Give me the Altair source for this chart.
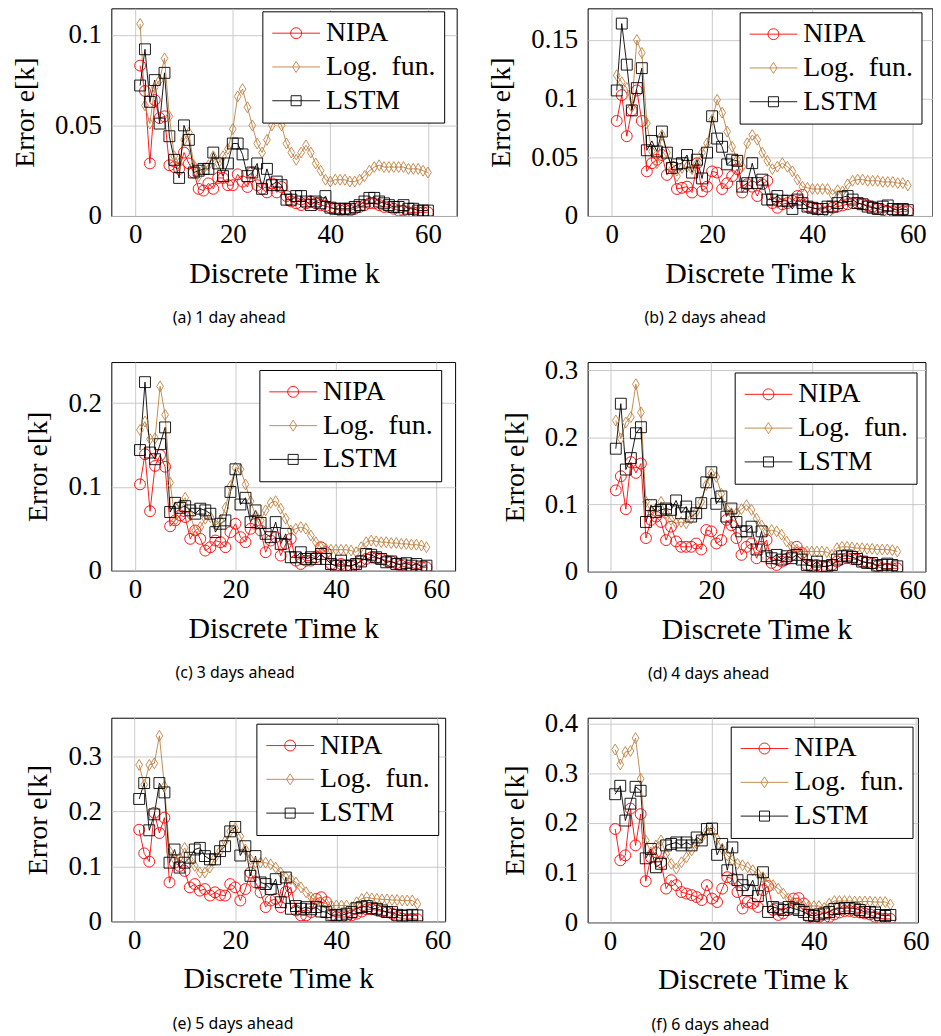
import altair as alt
import pandas as pd

SERIES = ["NIPA", "Log.\u2002fun.", "LSTM"]
COLORS = ["#ff0000", "#bf8040", "#000000"]
X_TICKS = [0, 20, 40, 60]

CAPTIONS = ["(a) 1 day ahead", "(b) 2 days ahead", "(c) 3 days ahead",
            "(d) 4 days ahead", "(e) 5 days ahead", "(f) 6 days ahead"]
Y_TICKS = [[0, 0.05, 0.1], [0, 0.05, 0.1, 0.15], [0, 0.1, 0.2],
           [0, 0.1, 0.2, 0.3], [0, 0.1, 0.2, 0.3], [0, 0.1, 0.2, 0.3, 0.4]]

# ---------------- (a) 1 day ahead ----------------
a_nipa = [0.083, 0.069, 0.029, 0.064, 0.054, 0.055, 0.028, 0.027, 0.026, 0.035,
          0.029, 0.024, 0.015, 0.014, 0.018, 0.015, 0.021, 0.021, 0.017, 0.017,
          0.023, 0.019, 0.016, 0.024, 0.017, 0.015, 0.013, 0.018, 0.013, 0.016,
          0.011, 0.008, 0.007, 0.006, 0.007, 0.008, 0.007, 0.006, 0.0055, 0.0046,
          0.004, 0.003, 0.0035, 0.003, 0.004, 0.005, 0.006, 0.007, 0.007, 0.006,
          0.005, 0.005, 0.004, 0.003, 0.003, 0.002, 0.002, 0.002, 0.002, 0.002]
a_log = [0.106, 0.061, 0.051, 0.071, 0.075, 0.087, 0.055, 0.033, 0.029, 0.042,
         0.046, 0.028, 0.022, 0.026, 0.028, 0.033, 0.029, 0.033, 0.037, 0.048,
         0.066, 0.070, 0.060, 0.050, 0.040, 0.035, 0.042, 0.050, 0.054, 0.050,
         0.040, 0.035, 0.031, 0.035, 0.039, 0.035, 0.029, 0.025, 0.020, 0.019,
         0.020, 0.020, 0.020, 0.019, 0.019, 0.020, 0.022, 0.025, 0.027, 0.028,
         0.027, 0.027, 0.027, 0.027, 0.027, 0.026, 0.026, 0.026, 0.025, 0.024]
a_lstm = [0.072, 0.092, 0.063, 0.075, 0.051, 0.079, 0.044, 0.031, 0.021, 0.050,
          0.042, 0.024, 0.025, 0.026, 0.026, 0.035, 0.029, 0.022, 0.029, 0.040,
          0.040, 0.034, 0.022, 0.024, 0.029, 0.015, 0.026, 0.017, 0.019, 0.017,
          0.009, 0.009, 0.011, 0.011, 0.008, 0.006, 0.008, 0.007, 0.011, 0.0046,
          0.004, 0.004, 0.004, 0.004, 0.005, 0.006, 0.008, 0.010, 0.010, 0.008,
          0.007, 0.006, 0.005, 0.005, 0.006, 0.004, 0.004, 0.003, 0.003, 0.003]

# ---------------- (b) 2 days ahead ----------------
b_nipa = [0.081, 0.103, 0.068, 0.090, 0.107, 0.081, 0.038, 0.045, 0.048, 0.052,
          0.035, 0.042, 0.023, 0.024, 0.025, 0.020, 0.045, 0.021, 0.025, 0.038,
          0.037, 0.023, 0.028, 0.034, 0.040, 0.020, 0.027, 0.025, 0.017, 0.027,
          0.030, 0.011, 0.007, 0.010, 0.011, 0.013, 0.017, 0.018, 0.008, 0.007,
          0.006, 0.003, 0.004, 0.007, 0.008, 0.009, 0.010, 0.011, 0.011, 0.010,
          0.009, 0.008, 0.006, 0.005, 0.004, 0.004, 0.003, 0.004, 0.004]
b_log = [0.120, 0.114, 0.109, 0.093, 0.150, 0.139, 0.079, 0.055, 0.045, 0.069,
         0.054, 0.040, 0.034, 0.041, 0.042, 0.040, 0.045, 0.054, 0.062, 0.082,
         0.099, 0.088, 0.072, 0.059, 0.048, 0.042, 0.062, 0.069, 0.065, 0.054,
         0.047, 0.040, 0.042, 0.045, 0.042, 0.038, 0.031, 0.025, 0.024, 0.023,
         0.023, 0.023, 0.023, 0.018, 0.022, 0.021, 0.027, 0.030, 0.031, 0.031,
         0.030, 0.030, 0.030, 0.029, 0.029, 0.029, 0.028, 0.028, 0.026]
b_lstm = [0.107, 0.164, 0.129, 0.090, 0.109, 0.126, 0.056, 0.064, 0.055, 0.072,
          0.054, 0.041, 0.044, 0.045, 0.052, 0.037, 0.048, 0.032, 0.054, 0.085,
          0.066, 0.059, 0.044, 0.048, 0.047, 0.025, 0.028, 0.045, 0.028, 0.031,
          0.014, 0.014, 0.017, 0.013, 0.013, 0.006, 0.014, 0.011, 0.008, 0.007,
          0.006, 0.006, 0.008, 0.008, 0.011, 0.016, 0.017, 0.014, 0.011, 0.010,
          0.008, 0.007, 0.006, 0.008, 0.009, 0.006, 0.005, 0.006, 0.005]

# ---------------- (c) 3 days ahead ----------------
c_nipa = [0.103, 0.139, 0.071, 0.125, 0.138, 0.124, 0.053, 0.060, 0.066, 0.064,
          0.038, 0.048, 0.038, 0.024, 0.028, 0.036, 0.034, 0.028, 0.046, 0.056,
          0.040, 0.034, 0.050, 0.056, 0.048, 0.022, 0.036, 0.040, 0.018, 0.032,
          0.038, 0.012, 0.008, 0.012, 0.012, 0.016, 0.028, 0.022, 0.008, 0.006,
          0.008, 0.006, 0.005, 0.008, 0.012, 0.014, 0.016, 0.015, 0.014, 0.012,
          0.011, 0.009, 0.006, 0.004, 0.004, 0.002, 0.004, 0.004]
c_log = [0.168, 0.178, 0.157, 0.158, 0.220, 0.186, 0.105, 0.060, 0.079, 0.087,
         0.066, 0.048, 0.052, 0.062, 0.064, 0.054, 0.060, 0.075, 0.101, 0.123,
         0.121, 0.103, 0.083, 0.066, 0.060, 0.072, 0.081, 0.083, 0.074, 0.062,
         0.048, 0.050, 0.052, 0.050, 0.042, 0.034, 0.028, 0.026, 0.025, 0.025,
         0.025, 0.025, 0.024, 0.022, 0.028, 0.034, 0.036, 0.035, 0.034, 0.034,
         0.033, 0.033, 0.032, 0.032, 0.031, 0.031, 0.030, 0.028]
c_lstm = [0.144, 0.225, 0.141, 0.133, 0.151, 0.171, 0.070, 0.081, 0.075, 0.077,
          0.072, 0.068, 0.074, 0.072, 0.068, 0.046, 0.056, 0.060, 0.094, 0.121,
          0.079, 0.087, 0.058, 0.072, 0.057, 0.044, 0.040, 0.058, 0.032, 0.044,
          0.016, 0.016, 0.022, 0.014, 0.016, 0.014, 0.020, 0.014, 0.008, 0.006,
          0.012, 0.006, 0.006, 0.008, 0.011, 0.020, 0.019, 0.016, 0.014, 0.010,
          0.011, 0.008, 0.0075, 0.009, 0.006, 0.008, 0.005, 0.006]

# ---------------- (d) 4 days ahead ----------------
d_nipa = [0.121, 0.142, 0.093, 0.163, 0.147, 0.161, 0.050, 0.077, 0.082, 0.074,
          0.047, 0.067, 0.045, 0.037, 0.037, 0.037, 0.042, 0.033, 0.062, 0.060,
          0.042, 0.047, 0.077, 0.069, 0.050, 0.025, 0.037, 0.042, 0.020, 0.037,
          0.047, 0.013, 0.010, 0.015, 0.019, 0.025, 0.037, 0.028, 0.010, 0.008,
          0.010, 0.008, 0.007, 0.010, 0.015, 0.019, 0.020, 0.019, 0.018, 0.015,
          0.014, 0.012, 0.008, 0.005, 0.004, 0.005, 0.005]
d_log = [0.225, 0.198, 0.222, 0.230, 0.279, 0.237, 0.104, 0.089, 0.094, 0.104,
         0.087, 0.077, 0.072, 0.074, 0.072, 0.079, 0.089, 0.104, 0.129, 0.146,
         0.141, 0.116, 0.094, 0.087, 0.087, 0.093, 0.099, 0.092, 0.079, 0.069,
         0.060, 0.062, 0.060, 0.055, 0.045, 0.037, 0.033, 0.030, 0.030, 0.030,
         0.030, 0.030, 0.029, 0.025, 0.035, 0.037, 0.037, 0.036, 0.035, 0.035,
         0.034, 0.034, 0.033, 0.033, 0.033, 0.032, 0.030]
d_lstm = [0.183, 0.250, 0.152, 0.169, 0.206, 0.215, 0.074, 0.099, 0.089, 0.092,
          0.094, 0.092, 0.106, 0.087, 0.097, 0.082, 0.087, 0.102, 0.133, 0.148,
          0.101, 0.112, 0.082, 0.094, 0.074, 0.060, 0.060, 0.067, 0.033, 0.060,
          0.023, 0.020, 0.025, 0.018, 0.023, 0.020, 0.025, 0.018, 0.010, 0.009,
          0.015, 0.008, 0.008, 0.010, 0.018, 0.023, 0.024, 0.022, 0.019, 0.015,
          0.013, 0.013, 0.009, 0.010, 0.012, 0.010, 0.008]

# ---------------- (e) 5 days ahead ----------------
e_nipa = [0.167, 0.124, 0.109, 0.198, 0.161, 0.189, 0.071, 0.107, 0.101, 0.092,
          0.062, 0.068, 0.056, 0.059, 0.047, 0.053, 0.048, 0.047, 0.068, 0.062,
          0.038, 0.059, 0.089, 0.071, 0.053, 0.026, 0.038, 0.041, 0.026, 0.054,
          0.062, 0.020, 0.011, 0.011, 0.017, 0.041, 0.044, 0.035, 0.011, 0.008,
          0.008, 0.008, 0.011, 0.014, 0.018, 0.022, 0.022, 0.020, 0.018, 0.017,
          0.014, 0.008, 0.005, 0.004, 0.005, 0.004]
e_log = [0.285, 0.249, 0.285, 0.288, 0.338, 0.246, 0.128, 0.113, 0.116, 0.134,
         0.113, 0.101, 0.089, 0.089, 0.098, 0.116, 0.128, 0.146, 0.164, 0.170,
         0.155, 0.131, 0.113, 0.107, 0.107, 0.107, 0.104, 0.098, 0.089, 0.080,
         0.077, 0.071, 0.062, 0.053, 0.044, 0.036, 0.035, 0.032, 0.029, 0.029,
         0.029, 0.029, 0.026, 0.035, 0.041, 0.044, 0.042, 0.041, 0.040, 0.040,
         0.039, 0.039, 0.038, 0.038, 0.038, 0.032]
e_lstm = [0.223, 0.252, 0.166, 0.195, 0.252, 0.235, 0.107, 0.131, 0.098, 0.107,
          0.116, 0.131, 0.134, 0.119, 0.113, 0.113, 0.128, 0.137, 0.164, 0.172,
          0.120, 0.137, 0.083, 0.119, 0.071, 0.068, 0.059, 0.077, 0.035, 0.080,
          0.023, 0.028, 0.023, 0.026, 0.022, 0.026, 0.018, 0.017, 0.011, 0.012,
          0.011, 0.014, 0.017, 0.024, 0.026, 0.028, 0.024, 0.023, 0.020, 0.017,
          0.017, 0.012, 0.010, 0.011, 0.012, 0.011]

# ---------------- (f) 6 days ahead ----------------
f_nipa = [0.188, 0.125, 0.135, 0.229, 0.155, 0.218, 0.083, 0.131, 0.141, 0.121,
          0.068, 0.085, 0.075, 0.061, 0.058, 0.055, 0.051, 0.045, 0.075, 0.048,
          0.041, 0.068, 0.091, 0.088, 0.061, 0.028, 0.041, 0.038, 0.031, 0.065,
          0.073, 0.025, 0.015, 0.018, 0.025, 0.048, 0.049, 0.038, 0.011, 0.008,
          0.011, 0.008, 0.011, 0.016, 0.020, 0.023, 0.023, 0.021, 0.020, 0.018,
          0.016, 0.011, 0.008, 0.007, 0.007]
f_log = [0.348, 0.318, 0.343, 0.345, 0.371, 0.289, 0.165, 0.141, 0.155, 0.165,
         0.138, 0.118, 0.108, 0.121, 0.131, 0.145, 0.158, 0.171, 0.185, 0.185,
         0.168, 0.148, 0.135, 0.125, 0.118, 0.115, 0.111, 0.105, 0.098, 0.091,
         0.081, 0.075, 0.068, 0.058, 0.048, 0.041, 0.036, 0.033, 0.033, 0.033,
         0.033, 0.029, 0.038, 0.043, 0.043, 0.043, 0.043, 0.042, 0.042, 0.042,
         0.042, 0.041, 0.041, 0.041, 0.036]
f_lstm = [0.258, 0.275, 0.205, 0.239, 0.273, 0.265, 0.129, 0.148, 0.111, 0.118,
          0.155, 0.158, 0.161, 0.155, 0.161, 0.155, 0.171, 0.165, 0.188, 0.189,
          0.136, 0.158, 0.105, 0.151, 0.085, 0.075, 0.065, 0.085, 0.053, 0.101,
          0.021, 0.031, 0.028, 0.025, 0.031, 0.028, 0.025, 0.021, 0.015, 0.013,
          0.016, 0.018, 0.021, 0.027, 0.028, 0.029, 0.029, 0.028, 0.025, 0.021,
          0.021, 0.020, 0.015, 0.013, 0.015]

# ---------------- styling / layout ----------------
SERIF = "Liberation Serif"
SANS = "Noto Sans"
DIAMOND = "M0,-1L0.62,0L0,1L-0.62,0Z"
MARKERS = ["circle", DIAMOND, "square"]
# legend glyphs: a line with the marker in the middle (path units: 1 = 12 px)
LEGEND_SHAPES = [
    "M-2,0H2M0.46,0A0.46,0.46,0,1,1,-0.46,0A0.46,0.46,0,1,1,0.46,0",
    "M-2,0H2M0,-0.46L0.3,0L0,0.46L-0.3,0Z",
    "M-2,0H2M-0.42,-0.42H0.42V0.42H-0.42Z",
]


def panel(vals, caption, yticks, xdom, ydom, w, h, lx, ly):
    rows = []
    for name, series in zip(SERIES, vals):
        for i, v in enumerate(series):
            rows.append({"k": i + 1, "e": v, "series": name})
    df = pd.DataFrame(rows)
    x = alt.X("k:Q", scale=alt.Scale(domain=xdom, nice=False, zero=False),
              axis=alt.Axis(values=X_TICKS, title="Discrete Time k"))
    y = alt.Y("e:Q", scale=alt.Scale(domain=ydom, nice=False, zero=False),
              axis=alt.Axis(values=yticks, format="~g", title="Error e[k]"))
    cscale = alt.Scale(domain=SERIES, range=COLORS)
    base = alt.Chart(df)
    lines = base.mark_line(strokeWidth=0.9, clip=True).encode(
        x=x, y=y, color=alt.Color("series:N", scale=cscale, legend=None))
    pts = base.mark_point(filled=False, size=120, strokeWidth=0.9, opacity=1, clip=True).encode(
        x=x, y=y,
        color=alt.Color("series:N", scale=cscale, legend=None),
        shape=alt.Shape("series:N", scale=alt.Scale(domain=SERIES, range=MARKERS), legend=None))
    leg = alt.Legend(title=None, orient="none", legendX=lx, legendY=ly,
                     fillColor="white", strokeColor="black", padding=8,
                     labelFont=SERIF, labelFontSize=28, labelColor="black",
                     symbolSize=576, symbolStrokeWidth=0.9, symbolOpacity=1,
                     symbolOffset=12, rowPadding=6, labelOffset=16, labelLimit=400)
    legl = base.transform_filter("datum.k < 0").mark_point(filled=False, strokeWidth=0.9).encode(
        x=x, y=y,
        color=alt.Color("series:N", scale=cscale, legend=leg),
        shape=alt.Shape("series:N", scale=alt.Scale(domain=SERIES, range=LEGEND_SHAPES), legend=leg))
    return alt.layer(lines, pts, legl).resolve_scale(
        color="independent", shape="independent").properties(
        width=w, height=h,
        title=alt.TitleParams(caption, orient="bottom", anchor="middle", frame="bounds",
                              dx=-5, font=SANS, fontSize=16, fontWeight="normal",
                              color="black", offset=22))


pa = panel([a_nipa, a_log, a_lstm], CAPTIONS[0], Y_TICKS[0], [-4.9, 65.9], [0, 0.1146], 347.6, 209, 152, 3)
pb = panel([b_nipa, b_log, b_lstm], CAPTIONS[1], Y_TICKS[1], [-4.8, 63.9], [0, 0.177], 347, 209, 153, 4)
pc = panel([c_nipa, c_log, c_lstm], CAPTIONS[2], Y_TICKS[2], [-4.7, 63.7], [0, 0.249], 346, 210, 149, 8)
pd_ = panel([d_nipa, d_log, d_lstm], CAPTIONS[3], Y_TICKS[3], [-4.6, 62.6], [0, 0.312], 340, 211, 148, 10.5)
pe = panel([e_nipa, e_log, e_lstm], CAPTIONS[4], Y_TICKS[4], [-4.5, 61.5], [0, 0.371], 336, 205, 146, 6)
pf = panel([f_nipa, f_log, f_lstm], CAPTIONS[5], Y_TICKS[5], [-4.4, 60.4], [0, 0.412], 332.4, 206, 144, 9)

chart = alt.concat(pa, pb, pc, pd_, pe, pf, columns=2,
                   spacing={"row": 147, "column": 131.4}, bounds="flush").properties(
    padding={"left": 3, "top": -4, "right": 0, "bottom": 0}
).configure_view(
    stroke="black", strokeWidth=1
).configure_axis(
    grid=True, gridColor="#c4c4c4", gridWidth=0.9, domain=False, ticks=False,
    labelFont=SERIF, labelFontSize=27, labelColor="black",
    titleFont=SERIF, titleFontSize=28, titleFontWeight="normal", titleColor="black"
).configure_axisX(
    labelPadding=6, titlePadding=11, titleFontSize=30
).configure_axisY(
    labelPadding=10, titlePadding=15
)

chart.save("out.html", embed_options={"renderer": "svg", "actions": False})
